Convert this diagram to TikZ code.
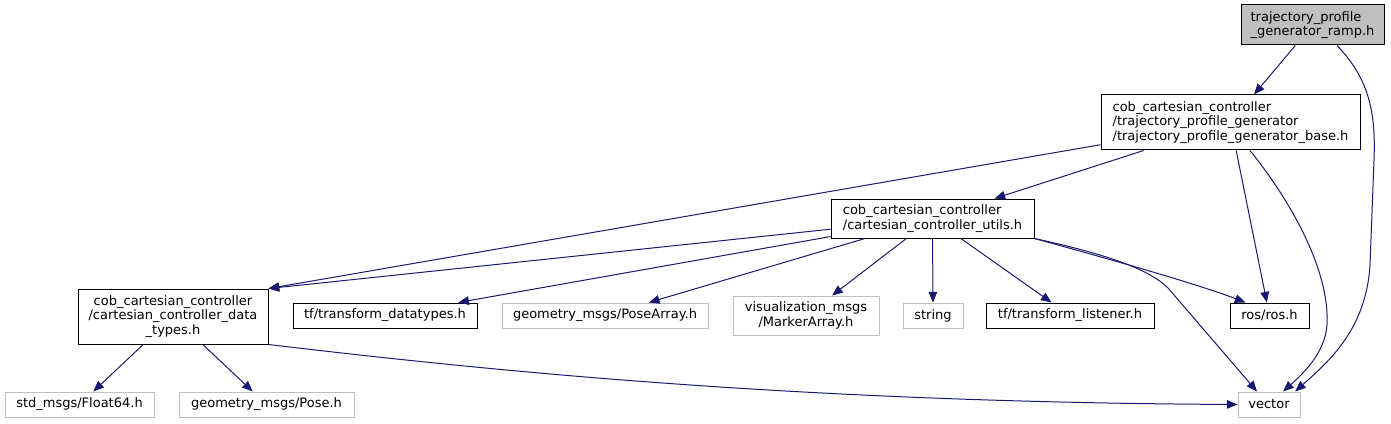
\documentclass[tikz,border=0pt]{standalone}
\usepackage{fontspec}
\setmainfont{DejaVu Sans}
\usetikzlibrary{arrows.meta}
\definecolor{edgeblue}{HTML}{191970}
\definecolor{grey75}{HTML}{BFBFBF}
\tikzset{
  box/.style={draw=black, line width=0.75pt, rectangle, inner sep=0pt, font=\fontsize{9.75}{10.9}\selectfont, text=black},
  gbox/.style={box, draw=grey75},
  root/.style={box, fill=grey75},
  dep/.style={draw=edgeblue, line width=0.75pt, -{Triangle[length=8pt,width=6.5pt]}},
}
\begin{document}
\begin{tikzpicture}[x=0.75pt,y=-0.75pt]
\useasboundingbox (0,0) rectangle (1391,424);
% nodes
\node[root, minimum width=107.25pt, minimum height=30pt, align=left] (ramp) at (1312.5,25) {trajectory\_profile\\\_generator\_ramp.h};
\node[box, minimum width=194.25pt, minimum height=41.25pt, align=left] (base) at (1230.5,122.5) {cob\_cartesian\_controller\\/trajectory\_profile\_generator\\/trajectory\_profile\_generator\_base.h};
\node[box, minimum width=152.25pt, minimum height=29.25pt, align=left] (ut) at (932.5,218.5) {cob\_cartesian\_controller\\/cartesian\_controller\_utils.h};
\node[box, minimum width=142.5pt, minimum height=41.25pt, align=center] (dt) at (173,316.5) {cob\_cartesian\_controller\\/cartesian\_controller\_data\\\_types.h};
\node[box, minimum width=138pt, minimum height=18.75pt] (td) at (385,315.5) {tf/transform\_datatypes.h};
\node[gbox, minimum width=154.5pt, minimum height=18.75pt] (pa) at (605,315.5) {geometry\_msgs/PoseArray.h};
\node[gbox, minimum width=109.5pt, minimum height=29.25pt, align=center] (ma) at (806,315.5) {visualization\_msgs\\/MarkerArray.h};
\node[gbox, minimum width=45pt, minimum height=18.75pt] (str) at (933,315.5) {string};
\node[box, minimum width=126pt, minimum height=18.75pt] (tl) at (1070,315.5) {tf/transform\_listener.h};
\node[box, minimum width=59.25pt, minimum height=18.75pt] (ros) at (1269.5,315.5) {ros/ros.h};
\node[gbox, minimum width=111.75pt, minimum height=18.75pt] (f64) at (79.5,404.5) {std\_msgs/Float64.h};
\node[gbox, minimum width=131.25pt, minimum height=18.75pt] (pose) at (266.5,404.5) {geometry\_msgs/Pose.h};
\node[gbox, minimum width=46.5pt, minimum height=18.75pt] (vec) at (1269,404.5) {vector};
% edges
\draw[dep] (ramp) -- (base);
\draw[dep] ([xshift=18.4pt]ramp.south) .. controls (1368,78) and (1376,110) .. (1374,160) -- (1370,265) .. controls (1366,330) and (1328,362) .. ([xshift=-4pt]vec.north east);
\draw[dep] (base) -- (dt.north east);
\draw[dep] (base) -- (ut);
\draw[dep] (base) -- (ros);
\draw[dep] ([xshift=14.6pt]base.south) .. controls (1290,200) and (1330,270) .. (1327,325) .. controls (1325,352) and (1305,372) .. ([xshift=10.5pt]vec.north);
\draw[dep] (ut) -- (dt.north east);
\draw[dep] (ut) -- (td);
\draw[dep] (ut) -- (pa);
\draw[dep] (ut) -- (ma);
\draw[dep] (ut) -- (str);
\draw[dep] (ut) -- (tl);
\draw[dep] (ut.south east) .. controls (1120,262) and (1200,285) .. ([xshift=-18pt]ros.north);
\draw[dep] (ut.south east) .. controls (1110,255) and (1150,270) .. (1168,288) -- ([xshift=-9pt]vec.north);
\draw[dep] (dt) -- (f64);
\draw[dep] (dt) -- (pose);
\draw[dep] (dt.south east) .. controls (500,372) and (800,402) .. (vec.west);
\end{tikzpicture}
\end{document}
